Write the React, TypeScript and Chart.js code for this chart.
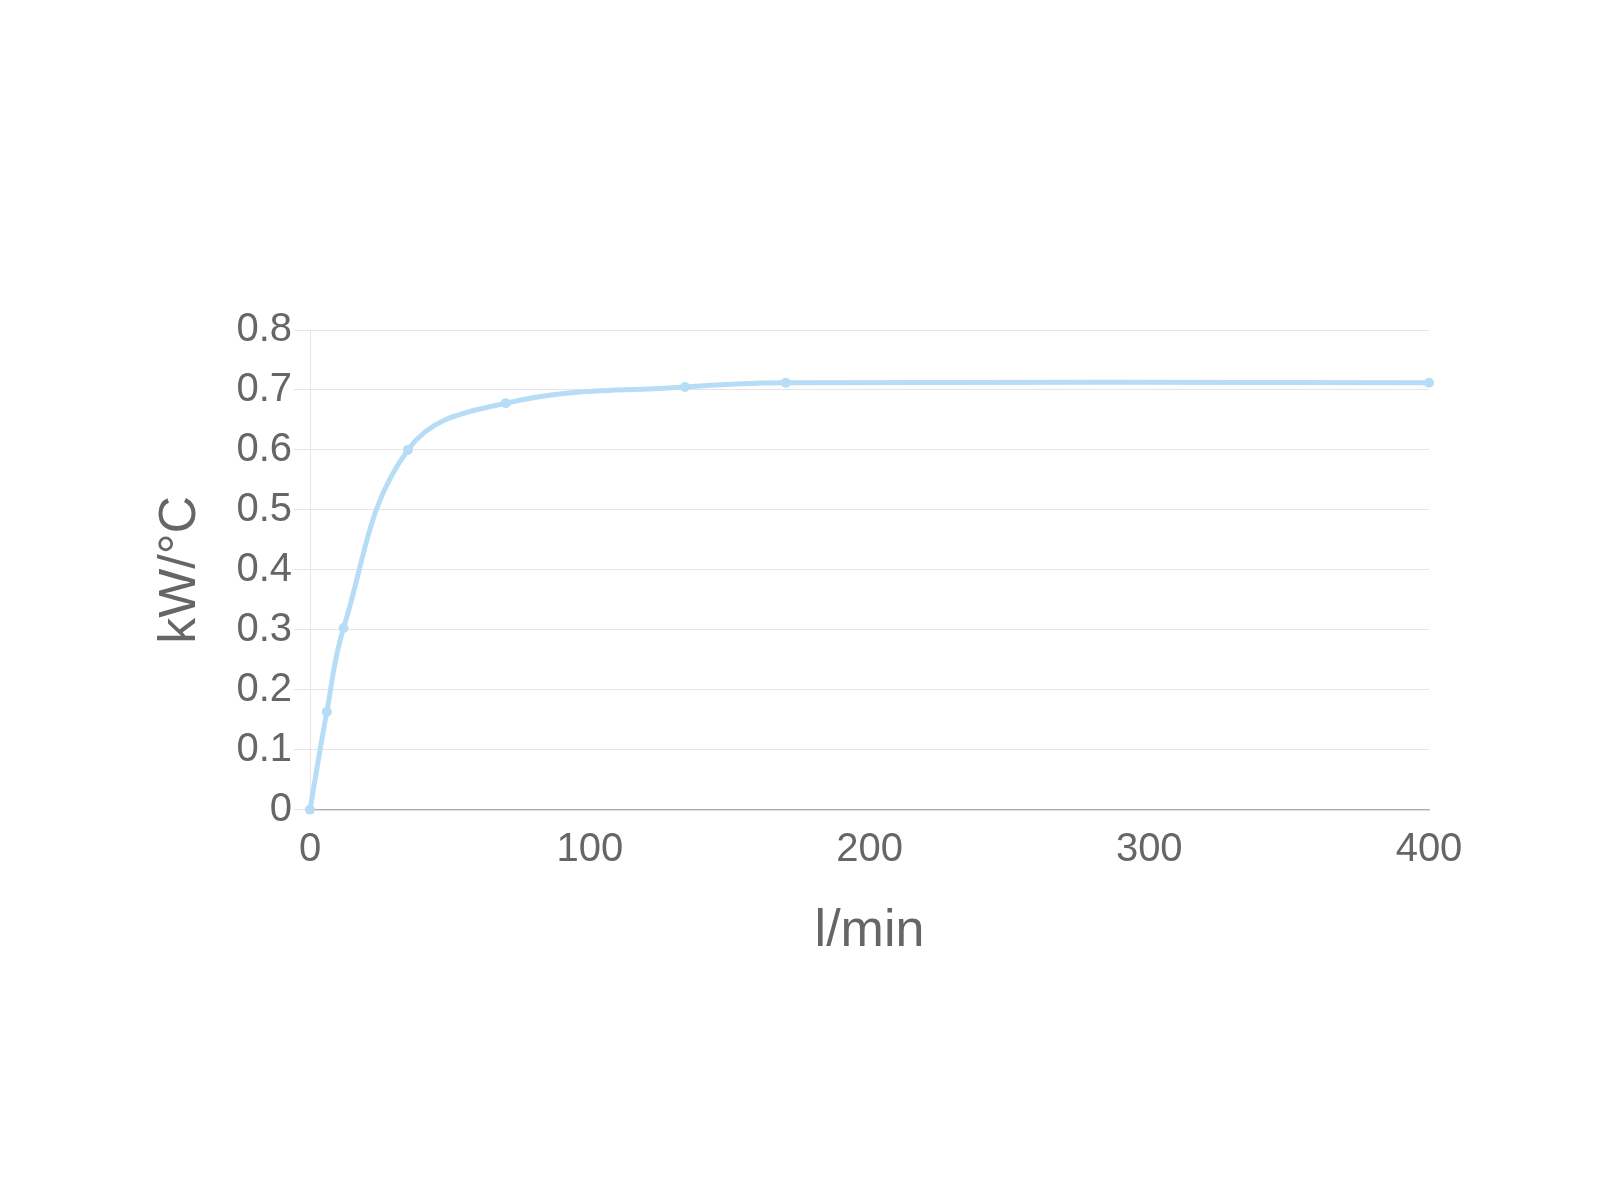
import React, { useEffect, useRef } from "react";
import { Chart, registerables } from "chart.js";

Chart.register(...registerables);

const flowRates = [0, 6, 12, 35, 70, 134, 170, 400];
const conductance = [0, 0.163, 0.303, 0.6, 0.678, 0.705, 0.712, 0.712];
const xTitle = "l/min";
const yTitle = "kW/°C";

export default function App() {
  const ref = useRef<HTMLCanvasElement | null>(null);

  useEffect(() => {
    if (!ref.current) return;
    const font = "'Liberation Sans', Arial, sans-serif";
    const chart = new Chart(ref.current, {
      type: "line",
      data: {
        datasets: [
          {
            data: flowRates.map((x, i) => ({ x, y: conductance[i] })),
            borderColor: "rgb(183, 221, 246)",
            backgroundColor: "rgb(183, 221, 246)",
            borderWidth: 5,
            pointRadius: 5,
            pointBorderWidth: 0,
            tension: 0.4,
            fill: false,
            clip: false,
          },
        ],
      },
      options: {
        animation: false,
        responsive: false,
        maintainAspectRatio: false,
        layout: { padding: { left: 145, top: 330, right: 171, bottom: 233 } },
        plugins: { legend: { display: false }, tooltip: { enabled: false } },
        scales: {
          x: {
            type: "linear",
            min: 0,
            max: 400,
            ticks: { stepSize: 100, color: "#666", font: { family: font, size: 40 }, padding: 16, maxRotation: 0 },
            grid: { display: false, drawTicks: false },
            border: { display: true, color: "rgba(0,0,0,0.25)", width: 1.5 },
            title: {
              display: true,
              text: xTitle,
              color: "#666",
              font: { family: font, size: 52 },
              padding: { top: 11, bottom: 4 },
            },
          },
          y: {
            type: "linear",
            min: 0,
            max: 0.8,
            ticks: { stepSize: 0.1, color: "#666", font: { family: font, size: 40 }, padding: 2 },
            grid: { color: "rgba(0,0,0,0.1)", tickLength: 16 },
            border: { display: true, color: "rgba(0,0,0,0.1)" },
            title: {
              display: true,
              text: yTitle,
              color: "#666",
              font: { family: font, size: 52 },
              padding: { top: 4, bottom: 23 },
            },
          },
        },
      },
    });
    return () => chart.destroy();
  }, []);

  return (
    <div style={{ position: "absolute", left: 0, top: 0, width: 1600, height: 1200, background: "#fff" }}>
      <canvas ref={ref} width={1600} height={1200} style={{ width: 1600, height: 1200 }} />
    </div>
  );
}
